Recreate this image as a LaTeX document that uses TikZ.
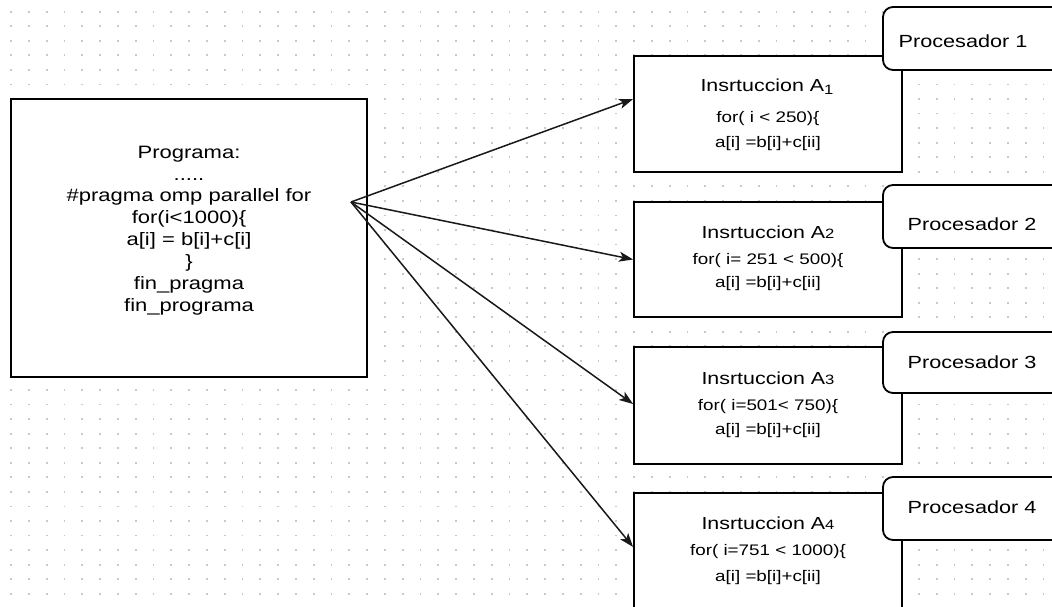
\documentclass[tikz,border=0pt]{standalone}
\usepackage{fontspec}
\setmainfont{Liberation Sans}[FakeStretch=1.23]
\usetikzlibrary{arrows.meta,calc}

\definecolor{gridgray}{RGB}{200,200,200}

\tikzset{
  gridDot/.style={fill=gridgray},
  progbox/.style={draw=black, line width=1.8pt, fill=white, inner sep=0pt},
  instbox/.style={draw=black, line width=1.8pt, fill=white, inner sep=0pt,
                  minimum width=268pt},
  procbox/.style={draw=black, line width=1.8pt, fill=white, inner sep=0pt,
                  rounded corners=10pt, minimum width=187pt},
  progtext/.style={align=center, inner sep=0pt,
                   font=\fontsize{17.9}{21.9}\selectfont},
  titletext/.style={anchor=base, inner sep=0pt, font=\fontsize{17.4}{20}\selectfont},
  codetext/.style={anchor=base, inner sep=0pt, font=\fontsize{15.3}{18}\selectfont},
  proctext/.style={anchor=base, inner sep=0pt, font=\fontsize{17.6}{20}\selectfont},
  arr/.style={line width=1.5pt, draw=black!90,
              -{Stealth[length=14pt,width=10pt,inset=3.5pt]}}
}

\newcommand{\lowsub}[1]{\raisebox{-3pt}{\fontsize{13.5}{14}\selectfont #1}}
\newcommand{\smalldigit}[1]{{\fontsize{13.5}{14}\selectfont #1}}

\begin{document}
\begin{tikzpicture}[x=1pt, y=-1pt]
  \useasboundingbox (0,0) rectangle (1052,607);
  \clip (0,0) rectangle (1052,607);
  \fill[white] (0,0) rectangle (1052,607);

  % dotted background grid
  \foreach \i in {0,...,58}{
    \foreach \j in {0,...,41}{
      \fill[gridDot] ({11+17.8*\i-0.9},{11.7+14.55*\j-0.9}) rectangle ++(1.8,1.8);
    }
  }

  % program block
  \node[progbox, minimum width=356pt, minimum height=278pt] (prog) at (189,238) {};
  \node[progtext] (progtxt) at (189,230.5)
    {Programa:\\.....\\\#pragma omp parallel for\\for(i<1000)\{\\a[i] = b[i]+c[i]\\\}\\fin\_pragma\\fin\_programa};
  \coordinate (src) at (351,202);

  % instruction blocks
  \node[instbox, minimum height=116pt] (b1) at (768,114) {};
  \node[instbox, minimum height=115pt] (b2) at (768,259.5) {};
  \node[instbox, minimum height=117pt] (b3) at (768,405.5) {};
  \node[instbox, minimum height=116pt] (b4) at (768,551) {};

  % processor tabs
  \node[procbox, minimum height=63pt] (p1) at (976.5,38.5) {};
  \node[procbox, minimum height=63pt] (p2) at (976.5,216.5) {};
  \node[procbox, minimum height=61pt] (p3) at (976.5,362.5) {};
  \node[procbox, minimum height=63pt] (p4) at (976.5,508.5) {};

  \node[proctext] (p1t) at (963,47.8) {Procesador 1};
  \node[proctext] (p2t) at (972,230.8) {Procesador 2};
  \node[proctext] (p3t) at (972,368.8) {Procesador 3};
  \node[proctext] (p4t) at (972,513.8) {Procesador 4};

  % block contents
  \node[titletext] (b1a) at (767,92) {Insrtuccion A\lowsub{1}};
  \node[codetext]  (b1b) at (768,122.4) {for( i < 250)\{};
  \node[codetext]  (b1c) at (768,147) {a[i] =b[i]+c[ii]};

  \node[titletext] (b2a) at (768,238) {Insrtuccion A\smalldigit{2}};
  \node[codetext]  (b2b) at (768,264.5) {for( i= 251 < 500)\{};
  \node[codetext]  (b2c) at (768,287.5) {a[i] =b[i]+c[ii]};

  \node[titletext] (b3a) at (768,384) {Insrtuccion A\smalldigit{3}};
  \node[codetext]  (b3b) at (768,410.5) {for( i=501< 750)\{};
  \node[codetext]  (b3c) at (768,434) {a[i] =b[i]+c[ii]};

  \node[titletext] (b4a) at (768,529) {Insrtuccion A\smalldigit{4}};
  \node[codetext]  (b4b) at (768,555.5) {for( i=751 < 1000)\{};
  \node[codetext]  (b4c) at (768,581) {a[i] =b[i]+c[ii]};

  % distribution arrows
  \draw[arr] (src) -- ([yshift=15pt]b1.west);
  \draw[arr] (src) -- (b2.west);
  \draw[arr] (src) -- ([yshift=1.5pt]b3.west);
  \draw[arr] (src) -- ([yshift=4pt]b4.west);
\end{tikzpicture}
\end{document}
